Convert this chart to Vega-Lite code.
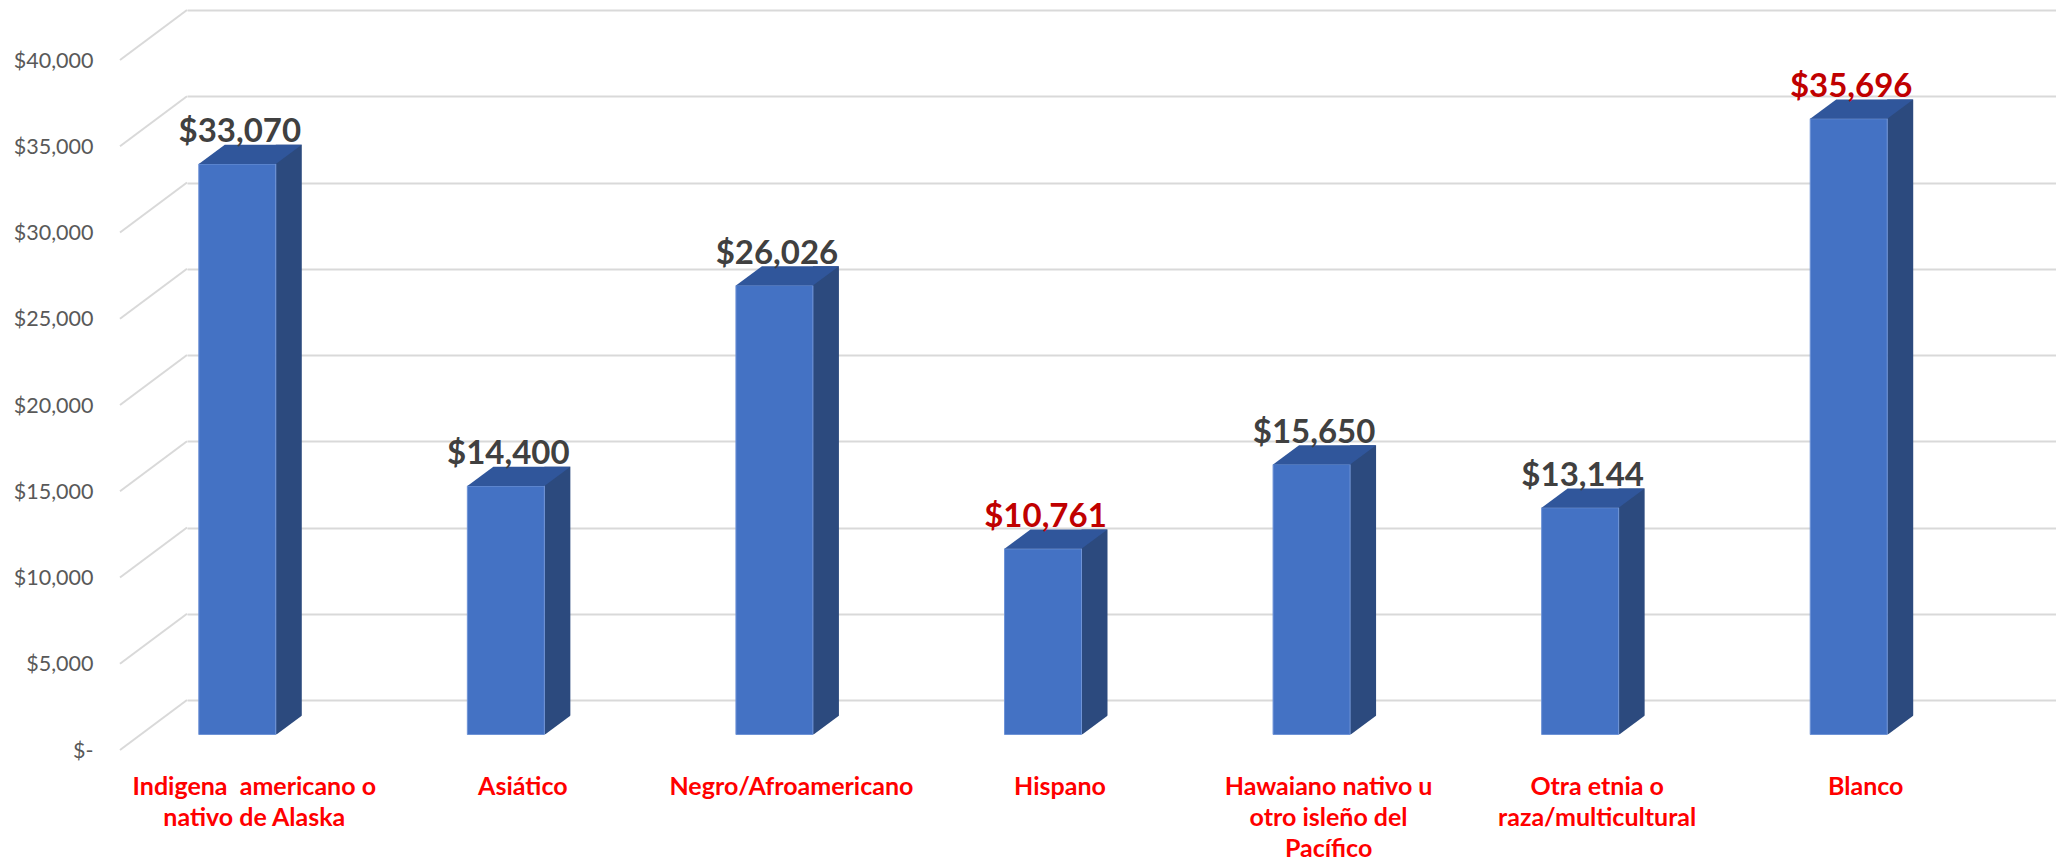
{
  "$schema": "https://vega.github.io/schema/vega-lite/v6.json",
  "width": 1869,
  "height": 690,
  "autosize": {"type": "none"},
  "padding": {"left": 187, "top": 10, "right": 0, "bottom": 160},
  "background": "white",
  "config": {
    "view": {"stroke": null},
    "font": "Lato",
    "axisX": {
      "title": null, "domain": false, "ticks": false, "tickSize": 0, "grid": false,
      "labelAngle": 0, "labelOffset": -67, "labelPadding": 74, "labelBaseline": "top", "labelAlign": "center",
      "labelFont": "Lato", "labelFontWeight": "bold", "labelFontSize": 25, "labelColor": "#FF0000",
      "labelLineHeight": 31, "labelOverlap": false, "labelBound": false, "labelFlush": false, "labelLimit": 0
    },
    "axisY": {
      "title": null, "domain": false, "ticks": false, "tickSize": 0,
      "grid": true, "gridColor": "#D9D9D9", "gridWidth": 2,
      "labelPadding": 94, "labelOffset": 51, "labelFont": "Lato", "labelFontSize": 21.5, "labelColor": "#595959",
      "labelBound": false, "labelFlush": false, "labelOverlap": false
    }
  },
  "datasets": {
    "ingresos": [
      {"grupo": "Indigena  americano o nativo de Alaska", "ingreso": 33070},
      {"grupo": "Asiático", "ingreso": 14400},
      {"grupo": "Negro/Afroamericano", "ingreso": 26026},
      {"grupo": "Hispano", "ingreso": 10761},
      {"grupo": "Hawaiano nativo u otro isleño del Pacífico", "ingreso": 15650},
      {"grupo": "Otra etnia o raza/multicultural", "ingreso": 13144},
      {"grupo": "Blanco", "ingreso": 35696}
    ],
    "niveles": [
      {"nivel": 0}, {"nivel": 5000}, {"nivel": 10000}, {"nivel": 15000}, {"nivel": 20000},
      {"nivel": 25000}, {"nivel": 30000}, {"nivel": 35000}, {"nivel": 40000}
    ]
  },
  "layer": [
    {
      "data": {"name": "niveles"},
      "mark": {"type": "rule", "color": "#D9D9D9", "strokeWidth": 2, "xOffset": -67, "yOffset": 50},
      "encoding": {
        "x": {"value": 0},
        "x2": {"value": 0},
        "y": {
          "field": "nivel", "type": "quantitative", "scale": {"domain": [0, 40000], "nice": false},
          "axis": {"title": null, "values": [0, 5000, 10000, 15000, 20000, 25000, 30000, 35000, 40000], "labelExpr": "datum.value == 0 ? '$-' : '$' + format(datum.value, ',')"}
        },
        "y2": {"field": "nivel"}
      }
    },
    {
      "data": {"name": "ingresos"},
      "mark": {"type": "bar", "width": 26, "xOffset": -32.5, "yOffset": 15.2, "y2Offset": 34.5, "color": "#2C4A7E"},
      "encoding": {
        "x": {
          "field": "grupo", "type": "nominal", "sort": null,
          "scale": {"range": [0, 1880], "paddingInner": 0, "paddingOuter": 0},
          "axis": {"title": null, "labelExpr": "datum.label == 'Indigena  americano o nativo de Alaska' ? ['Indigena\u00a0 americano o', 'nativo de Alaska'] : datum.label == 'Hawaiano nativo u otro isleño del Pacífico' ? ['Hawaiano nativo u', 'otro isleño del', 'Pacífico'] : datum.label == 'Otra etnia o raza/multicultural' ? ['Otra etnia o', 'raza/multicultural'] : datum.label"}
        },
        "y": {
          "field": "ingreso", "type": "quantitative", "scale": {"domain": [0, 40000], "nice": false},
          "axis": {"title": null, "values": [0, 5000, 10000, 15000, 20000, 25000, 30000, 35000, 40000], "labelExpr": "datum.value == 0 ? '$-' : '$' + format(datum.value, ',')"}
        },
        "y2": {"datum": 0}
      }
    },
    {
      "data": {"name": "ingresos"},
      "mark": {"type": "bar", "width": 77, "xOffset": -84, "yOffset": 34.5, "y2Offset": 34.5, "color": "#4472C4", "stroke": "#6E93D6", "strokeWidth": 1},
      "encoding": {
        "x": {
          "field": "grupo", "type": "nominal", "sort": null,
          "scale": {"range": [0, 1880], "paddingInner": 0, "paddingOuter": 0},
          "axis": {"title": null, "labelExpr": "datum.label == 'Indigena  americano o nativo de Alaska' ? ['Indigena\u00a0 americano o', 'nativo de Alaska'] : datum.label == 'Hawaiano nativo u otro isleño del Pacífico' ? ['Hawaiano nativo u', 'otro isleño del', 'Pacífico'] : datum.label == 'Otra etnia o raza/multicultural' ? ['Otra etnia o', 'raza/multicultural'] : datum.label"}
        },
        "y": {
          "field": "ingreso", "type": "quantitative", "scale": {"domain": [0, 40000], "nice": false},
          "axis": {"title": null, "values": [0, 5000, 10000, 15000, 20000, 25000, 30000, 35000, 40000], "labelExpr": "datum.value == 0 ? '$-' : '$' + format(datum.value, ',')"}
        },
        "y2": {"datum": 0}
      }
    },
    {
      "data": {"name": "ingresos"},
      "mark": {"type": "point", "shape": "M-1,0.1874L0.4951,0.1874L1,-0.1874L-0.4951,-0.1874Z", "size": 10609, "filled": true, "opacity": 1, "color": "#30569B", "strokeWidth": 0, "xOffset": -71, "yOffset": 24.85},
      "encoding": {
        "x": {
          "field": "grupo", "type": "nominal", "sort": null,
          "scale": {"range": [0, 1880], "paddingInner": 0, "paddingOuter": 0},
          "axis": {"title": null, "labelExpr": "datum.label == 'Indigena  americano o nativo de Alaska' ? ['Indigena\u00a0 americano o', 'nativo de Alaska'] : datum.label == 'Hawaiano nativo u otro isleño del Pacífico' ? ['Hawaiano nativo u', 'otro isleño del', 'Pacífico'] : datum.label == 'Otra etnia o raza/multicultural' ? ['Otra etnia o', 'raza/multicultural'] : datum.label"}
        },
        "y": {
          "field": "ingreso", "type": "quantitative", "scale": {"domain": [0, 40000], "nice": false},
          "axis": {"title": null, "values": [0, 5000, 10000, 15000, 20000, 25000, 30000, 35000, 40000], "labelExpr": "datum.value == 0 ? '$-' : '$' + format(datum.value, ',')"}
        }
      }
    },
    {
      "data": {"name": "ingresos"},
      "mark": {"type": "point", "shape": "M-1,0.78L1.1,0.78L1.1,-0.78Z", "size": 676, "filled": true, "opacity": 1, "color": "white", "strokeWidth": 0, "xOffset": -32.5, "yOffset": 24.85},
      "encoding": {
        "x": {
          "field": "grupo", "type": "nominal", "sort": null,
          "scale": {"range": [0, 1880], "paddingInner": 0, "paddingOuter": 0},
          "axis": {"title": null, "labelExpr": "datum.label == 'Indigena  americano o nativo de Alaska' ? ['Indigena\u00a0 americano o', 'nativo de Alaska'] : datum.label == 'Hawaiano nativo u otro isleño del Pacífico' ? ['Hawaiano nativo u', 'otro isleño del', 'Pacífico'] : datum.label == 'Otra etnia o raza/multicultural' ? ['Otra etnia o', 'raza/multicultural'] : datum.label"}
        },
        "y": {
          "datum": 0, "type": "quantitative", "scale": {"domain": [0, 40000], "nice": false},
          "axis": {"title": null, "values": [0, 5000, 10000, 15000, 20000, 25000, 30000, 35000, 40000], "labelExpr": "datum.value == 0 ? '$-' : '$' + format(datum.value, ',')"}
        }
      }
    },
    {
      "data": {"name": "ingresos"},
      "mark": {"type": "text", "baseline": "alphabetic", "align": "center", "font": "Lato", "fontWeight": "bold", "fontSize": 33, "xOffset": -81.5, "yOffset": 12.5},
      "encoding": {
        "x": {
          "field": "grupo", "type": "nominal", "sort": null,
          "scale": {"range": [0, 1880], "paddingInner": 0, "paddingOuter": 0},
          "axis": {"title": null, "labelExpr": "datum.label == 'Indigena  americano o nativo de Alaska' ? ['Indigena\u00a0 americano o', 'nativo de Alaska'] : datum.label == 'Hawaiano nativo u otro isleño del Pacífico' ? ['Hawaiano nativo u', 'otro isleño del', 'Pacífico'] : datum.label == 'Otra etnia o raza/multicultural' ? ['Otra etnia o', 'raza/multicultural'] : datum.label"}
        },
        "y": {
          "field": "ingreso", "type": "quantitative", "scale": {"domain": [0, 40000], "nice": false},
          "axis": {"title": null, "values": [0, 5000, 10000, 15000, 20000, 25000, 30000, 35000, 40000], "labelExpr": "datum.value == 0 ? '$-' : '$' + format(datum.value, ',')"}
        },
        "text": {"field": "ingreso", "type": "quantitative", "format": "$,"},
        "color": {"condition": {"test": "datum.grupo === 'Hispano' || datum.grupo === 'Blanco'", "value": "#C00000"}, "value": "#404040"}
      }
    }
  ]
}
